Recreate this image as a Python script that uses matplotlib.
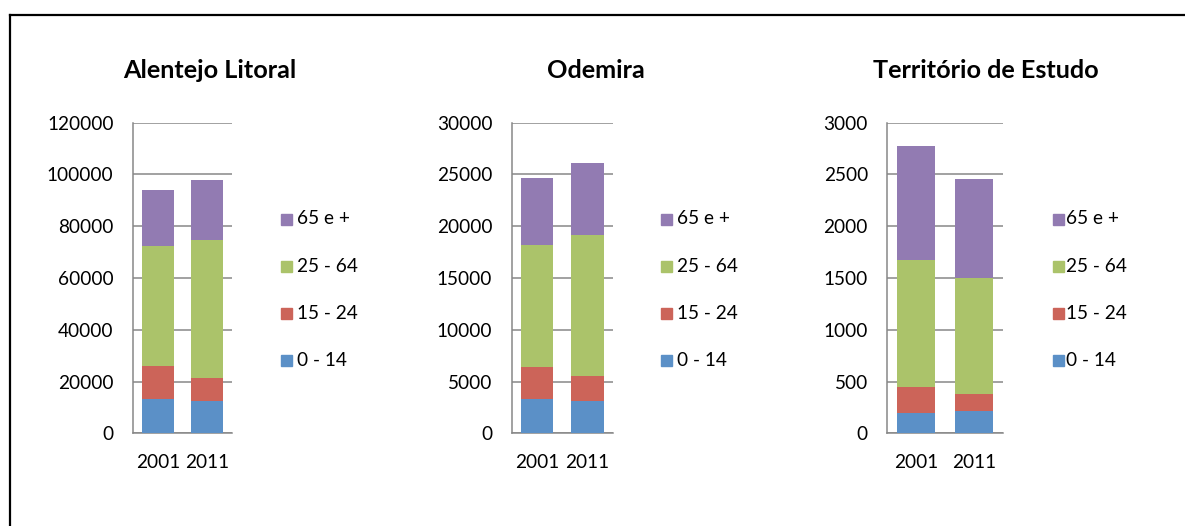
"""Population by age group, 2001 vs 2011, for three territories."""
import matplotlib.pyplot as plt
import numpy as np
from matplotlib.lines import Line2D
from matplotlib.patches import Rectangle

plt.rcParams["font.family"] = ["Lato", "DejaVu Sans"]

YEARS = ["2001", "2011"]
AGE_GROUPS = ["0 - 14", "15 - 24", "25 - 64", "65 e +"]
COLORS = ["#5B90C7", "#CC6459", "#ABC36A", "#927BB2"]

REGIONS = ["Alentejo Litoral", "Odemira", "Território de Estudo"]

# values per age group (rows) for 2001, 2011
alentejo_litoral = [[13100, 12400], [13000, 9100], [46300, 53000], [21500, 23400]]
odemira = [[3320, 3120], [3080, 2420], [11750, 13640], [6500, 6920]]
territorio = [[193, 212], [258, 171], [1219, 1114], [1108, 956]]

Y_MAX = [120000, 30000, 3000]
Y_STEP = [20000, 5000, 500]

W, H = 1185, 526
GRID = "#878787"
TICK_SIZE = 13.7

# pixel layout: axes left, axes width, title centre, legend marker x, legend text x
LAYOUT = [
    (133, 99, 210, 281, 297),
    (511.7, 101, 596, 661, 677),
    (887.3, 116, 986, 1053, 1066),
]
AX_TOP, AX_BOTTOM = 122.7, 433.3


def fx(x):
    return x / W


def fy(y):
    return 1 - y / H


def draw_panel(fig, data, title, ymax, ystep, layout):
    left, width, title_x, leg_x, text_x = layout
    ax = fig.add_axes([fx(left), fy(AX_BOTTOM), width / W, (AX_BOTTOM - AX_TOP) / H])
    x = np.arange(len(YEARS))
    bottom = np.zeros(len(YEARS))
    for values, color in zip(data, COLORS):
        ax.bar(x, values, width=0.65, bottom=bottom, color=color, zorder=3)
        bottom += np.array(values)
    ax.set_xlim(-0.5, 1.5)
    ax.set_ylim(0, ymax)
    ax.set_yticks(np.arange(0, ymax + 1, ystep))
    ax.set_xticks(x)
    ax.set_xticklabels(YEARS)
    ax.tick_params(axis="y", length=0, pad=14, labelsize=TICK_SIZE)
    ax.tick_params(axis="x", length=0, pad=15, labelsize=TICK_SIZE)
    ax.yaxis.grid(True, color=GRID, linewidth=1.1, zorder=0)
    for side in ["top", "right"]:
        ax.spines[side].set_visible(False)
    for side in ["left", "bottom"]:
        ax.spines[side].set_color(GRID)
        ax.spines[side].set_linewidth(1.1)

    fig.text(fx(title_x), fy(70), title, ha="center", va="center",
             fontsize=18.2, fontweight="bold")

    for i, (label, color) in enumerate(zip(AGE_GROUPS[::-1], COLORS[::-1])):
        yc = 219 + i * 47.2
        fig.patches.append(Rectangle((fx(leg_x), fy(yc + 5.5)), 11 / W, 11 / H,
                                     transform=fig.transFigure, color=color))
        fig.text(fx(text_x), fy(yc), label, ha="left", va="center", fontsize=TICK_SIZE)


def main():
    fig = plt.figure(figsize=(W / 100, H / 100), dpi=100)
    for data, title, ymax, ystep, layout in zip(
        [alentejo_litoral, odemira, territorio], REGIONS, Y_MAX, Y_STEP, LAYOUT
    ):
        draw_panel(fig, data, title, ymax, ystep, layout)

    # frame lines (top and left only visible in the crop)
    fig.add_artist(Line2D([fx(9.5), 1], [fy(14.5), fy(14.5)], color="black",
                          linewidth=1.6, transform=fig.transFigure))
    fig.add_artist(Line2D([fx(9.5), fx(9.5)], [fy(14.5), 0], color="black",
                          linewidth=1.6, transform=fig.transFigure))

    fig.savefig("out.png", dpi=100)


if __name__ == "__main__":
    main()
